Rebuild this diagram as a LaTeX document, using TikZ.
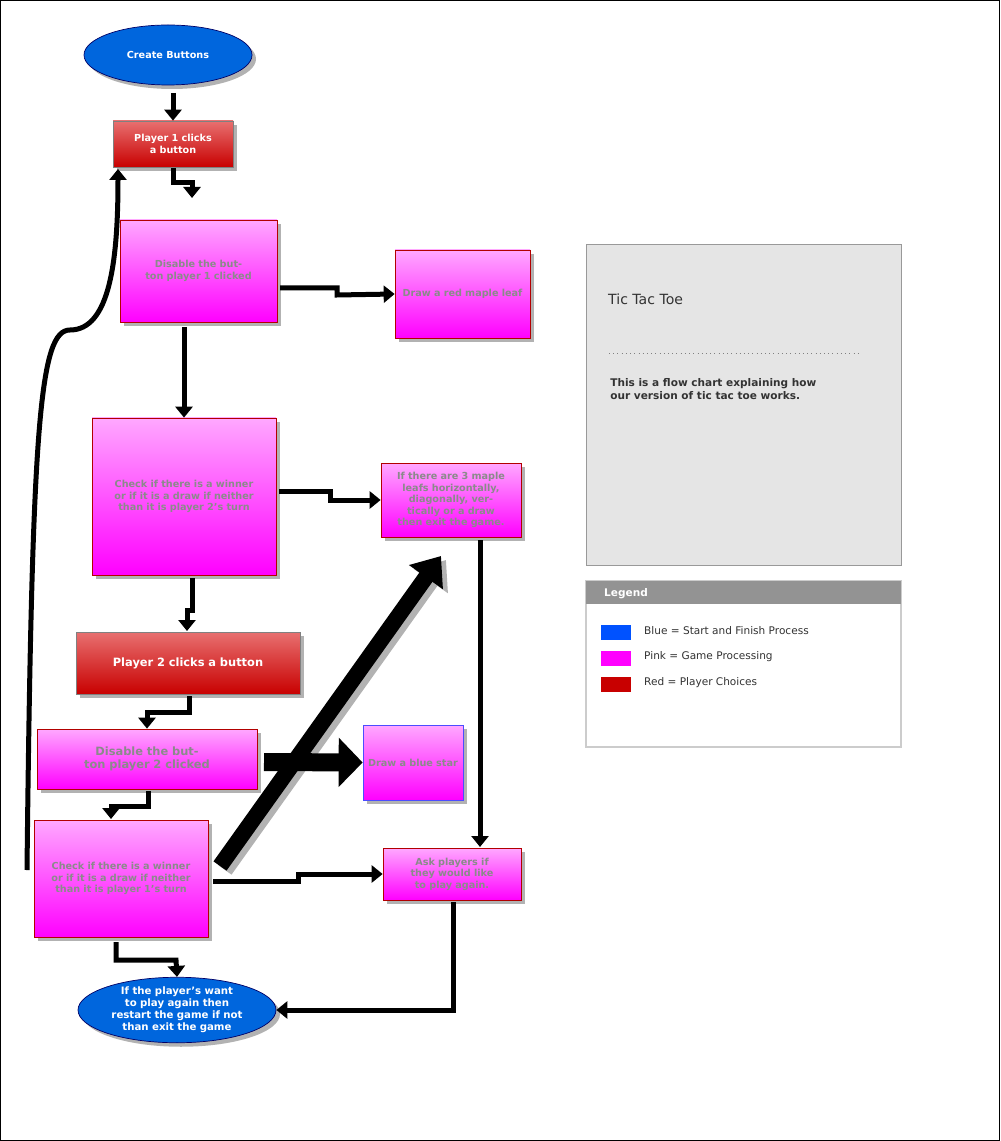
\documentclass[tikz,border=0pt]{standalone}
\usepackage{fontspec}
\setmainfont{DejaVu Sans}
\usetikzlibrary{shadows,arrows.meta,shapes.geometric}
\newlength\pxu \setlength\pxu{0.02cm}
\definecolor{pinkT}{HTML}{FFA8FF}
\definecolor{pinkB}{HTML}{FF00FF}
\definecolor{redT}{HTML}{E87070}
\definecolor{redB}{HTML}{C80000}
\definecolor{blueF}{HTML}{0066DD}
\definecolor{greyTxt}{HTML}{8A8A8A}
\begin{document}
\begin{tikzpicture}[x=0.02cm,y=-0.02cm,
 sh/.style={drop shadow={shadow xshift=0.08cm,shadow yshift=-0.08cm,fill=gray!60,opacity=1}},
 pbox/.style={sh,draw=red!70!black,line width=0.4pt,top color=pinkT,bottom color=pinkB,inner sep=1pt,align=center,font=\fontsize{5.5}{6.6}\selectfont\bfseries,text=greyTxt},
 rbox/.style={sh,draw=gray,line width=0.4pt,top color=redT,bottom color=redB,align=center,inner sep=1pt,font=\fontsize{5.5}{6.6}\selectfont\bfseries,text=white},
 ell/.style={sh,ellipse,draw=blue!40!black,fill=blueF,align=center,inner sep=0pt,text=white,font=\fontsize{5.5}{6.6}\selectfont\bfseries},
 con/.style={line width=0.1cm,-{Triangle[length=0.22cm,width=0.34cm]}},
 big/.style={line width=0.32cm,-{Triangle[length=0.52cm,width=0.8cm]}}
]
\useasboundingbox (0,0) rectangle (1000,1141);
\draw[line width=0.8pt] (0.5,0.5) rectangle (999.5,1140.5);
% nodes
\node[ell,minimum width=168\pxu,minimum height=60\pxu] (cb) at (168,55) {Create Buttons};
\node[rbox,minimum width=120\pxu,minimum height=46\pxu,text width=110\pxu] (p1) at (173,144) {Player 1 clicks a button};
\node[pbox,minimum width=157\pxu,minimum height=102\pxu,text width=150\pxu] (d1) at (198.5,271) {Disable the button player 1 clicked};
\node[pbox,minimum width=135\pxu,minimum height=88\pxu,text width=130\pxu] (ml) at (462.5,294) {Draw a red maple leaf};
\node[pbox,minimum width=184\pxu,minimum height=157\pxu,text width=178\pxu] (c1) at (184,496.5) {Check if there is a winner or if it is a draw if neither than it is player 2's turn};
\node[pbox,minimum width=140\pxu,minimum height=74\pxu,text width=132\pxu] (m3) at (451,500) {If there are 3 maple leafs horizontally, diagonally, vertically or a draw then exit the game.};
\node[rbox,minimum width=224\pxu,minimum height=62\pxu,text width=210\pxu,font=\fontsize{6.5}{7.8}\selectfont\bfseries] (p2) at (188,663) {Player 2 clicks a button};
\node[pbox,minimum width=220\pxu,minimum height=60\pxu,text width=210\pxu,font=\fontsize{6.5}{7.8}\selectfont\bfseries] (d2) at (147,759) {Disable the button player 2 clicked};
\node[pbox,draw=blue!70,minimum width=100\pxu,minimum height=75\pxu,text width=96\pxu] (bs) at (413,762.5) {Draw a blue star};
\node[pbox,minimum width=174\pxu,minimum height=117\pxu,text width=170\pxu] (c2) at (121,878.5) {Check if there is a winner or if it is a draw if neither than it is player 1's turn};
\node[pbox,minimum width=138\pxu,minimum height=52\pxu,text width=130\pxu] (ask) at (452,874) {Ask players if they would like to play again.};
\node[ell,minimum width=150\pxu,minimum height=62\pxu,text width=140\pxu,font=\fontsize{5.8}{6.9}\selectfont\bfseries] (fin) at (177,1010) {If the player's want to play again then restart the game if not than exit the game};
% connectors
\draw[con] (173,93) -- (p1.north);
\draw[con] (173,168) -- (173,183) -- (192,183) -- (192,198);
\draw[con] (280,288) -- (337,288) -- (337,295) -- (ml.west);
\draw[con] (184,327) -- (c1.north);
\draw[con] (279,491) -- (330,491) -- (330,500) -- (m3.west);
\draw[con] (192,578) -- (192,610) -- (187,610) -- (187,631);
\draw[con] (189,696) -- (189,712) -- (147,712) -- (d2.north);
\draw[con] (148,791) -- (148,806) -- (111,806) -- (111,819);
\draw[con] (213,881) -- (298,881) -- (298,874) -- (ask.west);
\draw[con] (480,540) -- (480,847);
\draw[con] (453,902) -- (453,1010) -- (fin.east);
\draw[con] (116,942) -- (116,960) -- (176,960) -- (fin.north);
\draw[con] (27,870) .. controls (32,420) and (40,330) .. (70,330) .. controls (110,330) and (118,260) .. (118,169);
% big arrows
\draw[big,draw=gray!60,fill=gray!60] (225,870) -- (446,560);
\draw[big] (220,866) -- (441,556);
\draw[line width=0.36cm,-{Triangle[length=0.48cm,width=0.96cm]}] (264,762) -- (bs.west);
% info panel
\draw[draw=gray!80,fill=gray!20] (586,244) rectangle (901,565);
\node[anchor=west,font=\fontsize{8}{9}\selectfont,text=black!80] (tt) at (602,299) {Tic Tac Toe};
\draw[dotted,gray] (609,353) -- (859,353);
\node[anchor=north west,align=left,font=\fontsize{6}{7.2}\selectfont\bfseries,text=black!80,inner sep=0pt] (desc) at (610,378) {This is a flow chart explaining how\\our version of tic tac toe works.};
% legend
\draw[draw=gray!40,line width=1pt,fill=white] (586,581) rectangle (901,747);
\fill[gray!85] (586,581) rectangle (901,604);
\node[anchor=west,font=\fontsize{6}{7.2}\selectfont\bfseries,text=white] (lg) at (598,594) {Legend};
\fill[blue!60!cyan!80!blue] (601,625) rectangle (631,640);
\fill[pinkB] (601,651) rectangle (631,666);
\fill[redB] (601,677) rectangle (631,692);
\node[anchor=west,font=\fontsize{6}{7.2}\selectfont,text=black!80] (l1) at (638,631) {Blue = Start and Finish Process};
\node[anchor=west,font=\fontsize{6}{7.2}\selectfont,text=black!80] (l2) at (638,657) {Pink = Game Processing};
\node[anchor=west,font=\fontsize{6}{7.2}\selectfont,text=black!80] (l3) at (638,683) {Red = Player Choices};
\end{tikzpicture}
\end{document}
